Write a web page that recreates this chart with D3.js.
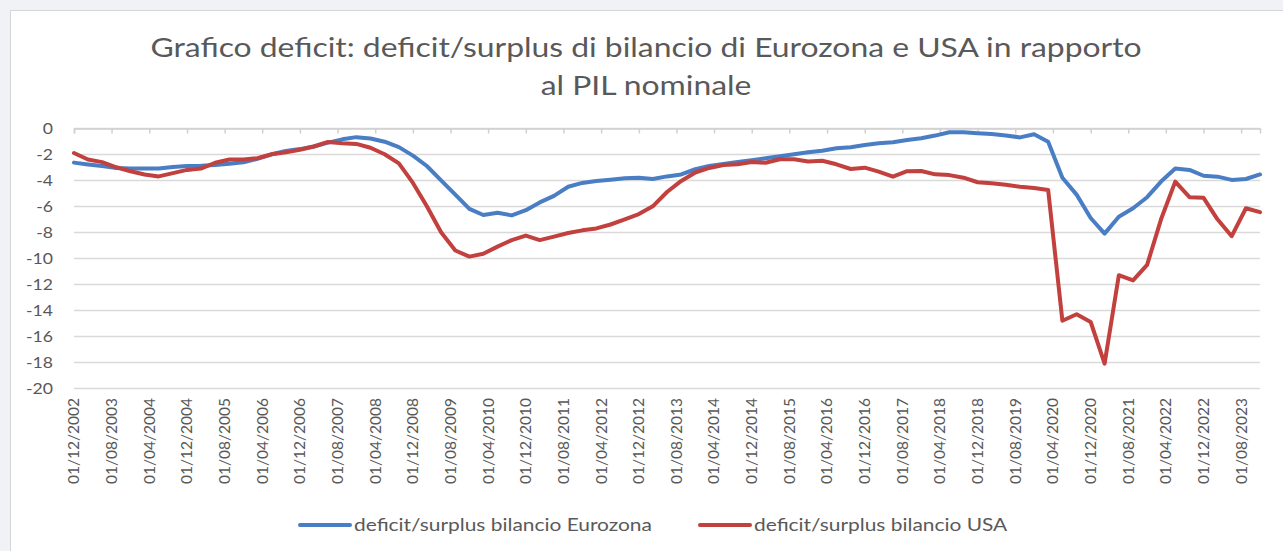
<!DOCTYPE html>
<html>
<head>
<meta charset="utf-8">
<script src="https://cdn.jsdelivr.net/npm/d3@7"></script>
<style>
  html, body { margin: 0; padding: 0; background: #f1f2f6; }
  svg { display: block; }
  text { font-family: Lato, "Open Sans", sans-serif; }
</style>
</head>
<body>
<svg id="chart" width="1283" height="551"></svg>
<script>
// ---- DATA ----
const titleLines = ["Grafico deficit: deficit/surplus di bilancio di Eurozona e USA in rapporto", "al PIL nominale"];
const seriesNames = ["deficit/surplus bilancio Eurozona", "deficit/surplus bilancio USA"];
const startDate = "2002-12-01";
const endDate = "2023-12-01";
// quarterly observations, Dec 2002 .. Dec 2023
const eurozona = [
  -2.64, -2.78, -2.9, -3.05, -3.1, -3.1, -3.1, -2.97, -2.9, -2.88,
  -2.82, -2.72, -2.62, -2.35, -2.0, -1.75, -1.6, -1.4, -1.1, -0.85,
  -0.68, -0.78, -1.03, -1.45, -2.1, -2.9, -4.0, -5.1, -6.2, -6.67,
  -6.5, -6.7, -6.3, -5.7, -5.2, -4.5, -4.2, -4.05, -3.95, -3.85,
  -3.8, -3.9, -3.7, -3.55, -3.15, -2.9, -2.75, -2.6, -2.45, -2.3,
  -2.15, -2.0, -1.85, -1.72, -1.54, -1.46, -1.28, -1.15, -1.08, -0.9,
  -0.77, -0.56, -0.3, -0.31, -0.38, -0.44, -0.55, -0.7, -0.46, -1.03,
  -3.8, -5.1, -6.9, -8.1, -6.8, -6.15, -5.3, -4.1, -3.1, -3.2,
  -3.65, -3.72, -3.97, -3.9, -3.55
];
const usa = [
  -1.9, -2.4, -2.6, -3.0, -3.3, -3.55, -3.7, -3.45, -3.2, -3.1,
  -2.65, -2.4, -2.4, -2.3, -2.0, -1.85, -1.65, -1.4, -1.05, -1.15,
  -1.2, -1.5, -2.0, -2.7, -4.2, -6.0, -8.0, -9.4, -9.87, -9.65,
  -9.1, -8.6, -8.25, -8.6, -8.33, -8.05, -7.85, -7.7, -7.4, -7.0,
  -6.6, -6.0, -4.9, -4.05, -3.4, -3.05, -2.82, -2.77, -2.6, -2.65,
  -2.38, -2.38, -2.55, -2.5, -2.77, -3.13, -3.03, -3.33, -3.72, -3.3,
  -3.28, -3.54, -3.6, -3.8, -4.15, -4.23, -4.35, -4.5, -4.6, -4.75,
  -14.8, -14.3, -14.9, -18.1, -11.3, -11.7, -10.5, -7.0, -4.1, -5.3,
  -5.35, -7.0, -8.3, -6.15, -6.45
];
const yTicks = [0, -2, -4, -6, -8, -10, -12, -14, -16, -18, -20];
const xTickLabels = [
  "01/12/2002","01/08/2003","01/04/2004","01/12/2004","01/08/2005","01/04/2006",
  "01/12/2006","01/08/2007","01/04/2008","01/12/2008","01/08/2009","01/04/2010",
  "01/12/2010","01/08/2011","01/04/2012","01/12/2012","01/08/2013","01/04/2014",
  "01/12/2014","01/08/2015","01/04/2016","01/12/2016","01/08/2017","01/04/2018",
  "01/12/2018","01/08/2019","01/04/2020","01/12/2020","01/08/2021","01/04/2022",
  "01/12/2022","01/08/2023"
];
const colors = ["#4a7ec4", "#c2403d"];

// ---- DRAW ----
const svg = d3.select("#chart");
const parse = d3.timeParse("%Y-%m-%d");
const parseLabel = d3.timeParse("%d/%m/%Y");
const d0 = parse(startDate);
const dates = eurozona.map((_, i) => d3.timeMonth.offset(d0, 3 * i));

const x = d3.scaleTime().domain([parse(startDate), parse(endDate)]).range([74, 1260]);
const y = d3.scaleLinear().domain([-20, 0]).range([388.3, 128.3]);

// card
svg.append("rect").attr("x", 10.5).attr("y", 10.5).attr("width", 1300).attr("height", 600)
  .attr("fill", "#ffffff").attr("stroke", "#d4d6dc");

// title (horizontally stretched like the source picture)
titleLines.forEach((t, i) => {
  svg.append("text")
    .attr("transform", `translate(646,${57 + i * 38}) scale(1.18,1)`)
    .attr("text-anchor", "middle").attr("fill", "#595959")
    .style("font-size", "27px").text(t);
});

// gridlines
svg.append("g").selectAll("line").data(yTicks).join("line")
  .attr("x1", x.range()[0]).attr("x2", x.range()[1])
  .attr("y1", d => Math.round(y(d)) + 0.5).attr("y2", d => Math.round(y(d)) + 0.5)
  .attr("stroke", "#d9d9d9").attr("stroke-width", 1.5);

// y labels
svg.append("g").selectAll("text").data(yTicks).join("text")
  .attr("transform", d => `translate(53,${y(d)}) scale(1.1,1)`)
  .attr("dy", "0.35em")
  .attr("text-anchor", "end").attr("fill", "#595959").style("font-size", "16px")
  .text(d => String(d));

// x axis at value 0 with tick marks down
const tickDates = xTickLabels.map(s => parseLabel(s));
const xAxis = d3.axisBottom(x).tickValues(tickDates).tickSize(5).tickFormat("");
const gx = svg.append("g").attr("transform", `translate(0,${Math.round(y(0)) + 0.5})`).call(xAxis);
gx.select(".domain").attr("stroke", "#d0d0d0").attr("stroke-width", 1.5);
gx.selectAll(".tick line").attr("stroke", "#d0d0d0").attr("stroke-width", 1.5);

// x labels (low position)
svg.append("g").selectAll("text").data(xTickLabels).join("text")
  .attr("transform", (s) => `translate(${x(parseLabel(s))},398) rotate(-90)`)
  .attr("text-anchor", "end").attr("dy", "0.35em")
  .attr("fill", "#595959").style("font-size", "15.5px")
  .text(s => s);

// lines
const line = d3.line().x((d, i) => x(dates[i])).y(d => y(d));
[eurozona, usa].forEach((s, k) => {
  svg.append("path").datum(s).attr("d", line)
    .attr("fill", "none").attr("stroke", colors[k]).attr("stroke-width", 4)
    .attr("stroke-linejoin", "round").attr("stroke-linecap", "round");
});

// legend
const legendX = [300, 700];
seriesNames.forEach((n, k) => {
  const g = svg.append("g").attr("transform", `translate(${legendX[k]},525)`);
  g.append("line").attr("x1", 0).attr("x2", 50).attr("y1", 0).attr("y2", 0)
    .attr("stroke", colors[k]).attr("stroke-width", 4).attr("stroke-linecap", "round");
  g.append("text").attr("transform", "translate(54,0) scale(1.23,1)").attr("dy", "0.35em")
    .attr("fill", "#595959").style("font-size", "17px").text(n);
});
</script>
</body>
</html>
